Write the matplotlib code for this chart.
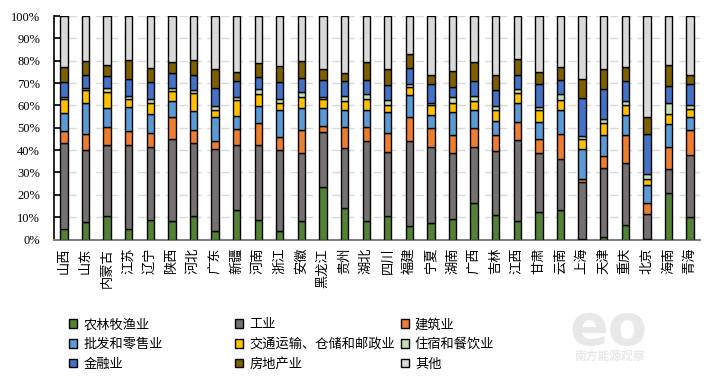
import matplotlib
matplotlib.use('Agg')
import matplotlib.pyplot as plt
import numpy as np

plt.rcParams['font.family'] = ['Liberation Serif', 'Noto Sans CJK SC', 'DejaVu Sans']

# provinces (left to right)
provinces = ['山西', '山东', '内蒙古', '江苏', '辽宁', '陕西', '河北', '广东', '新疆', '河南',
             '浙江', '安徽', '黑龙江', '贵州', '湖北', '四川', '福建', '宁夏', '湖南', '广西',
             '吉林', '江西', '甘肃', '云南', '上海', '天津', '重庆', '北京', '海南', '青海']

# share of each sector, %
agri = [4.9, 7.8, 10.7, 4.6, 8.8, 8.1, 10.3, 3.6, 13.4, 8.8,
        3.6, 8.2, 23.6, 14.3, 8.5, 10.4, 6.1, 7.6, 9.4, 16.3,
        11.0, 8.5, 12.4, 13.1, 0.3, 1.0, 6.4, 0.3, 20.9, 10.0]
industry = [38.4, 32.1, 31.8, 37.6, 32.7, 36.7, 32.7, 37.0, 28.8, 33.7,
            36.3, 30.5, 24.5, 26.7, 35.4, 28.7, 38.2, 33.9, 29.3, 24.9,
            28.4, 36.0, 26.3, 23.0, 25.4, 31.2, 27.9, 11.3, 10.7, 27.6]
construction = [5.4, 7.3, 7.8, 6.5, 6.3, 9.8, 6.1, 3.7, 7.4, 9.7,
                5.9, 10.4, 2.9, 9.4, 6.5, 8.7, 10.5, 8.5, 8.2, 8.5,
                7.2, 8.2, 6.5, 11.1, 1.3, 5.0, 12.3, 4.7, 9.9, 11.5]
trade = [7.7, 14.0, 8.5, 10.7, 8.3, 7.2, 8.5, 10.3, 5.8, 7.5,
         12.0, 9.6, 7.8, 7.4, 7.4, 9.1, 10.0, 5.5, 10.0, 8.1,
         6.5, 8.6, 7.6, 10.7, 13.3, 9.7, 9.1, 7.9, 10.0, 5.5]
transport = [6.3, 5.7, 7.0, 3.3, 5.2, 4.8, 8.1, 3.3, 7.0, 5.2,
             3.1, 5.2, 3.9, 4.3, 4.9, 3.1, 3.3, 4.5, 4.4, 4.3,
             4.7, 4.4, 5.0, 4.5, 4.5, 5.3, 4.4, 3.1, 4.6, 3.9]
hotel = [1.2, 1.0, 2.0, 1.6, 1.4, 1.0, 1.2, 1.7, 1.2, 2.3,
         1.9, 1.9, 1.2, 2.2, 2.4, 2.4, 1.5, 1.3, 2.3, 1.9,
         1.9, 1.5, 1.6, 2.7, 1.5, 1.7, 2.0, 1.8, 5.1, 1.9]
finance = [6.5, 5.7, 5.2, 7.6, 7.9, 6.7, 6.7, 8.2, 7.4, 5.3,
           7.8, 6.3, 7.4, 6.7, 6.2, 6.6, 7.0, 8.1, 4.6, 7.0,
           7.2, 6.5, 10.0, 6.2, 17.0, 13.3, 8.9, 18.1, 7.5, 9.0]
realestate = [6.6, 6.3, 4.9, 8.4, 6.1, 5.3, 6.7, 8.5, 3.9, 6.3,
              7.0, 7.9, 5.0, 3.5, 8.1, 7.4, 6.4, 4.3, 7.2, 8.3,
              6.5, 7.3, 5.5, 6.0, 8.5, 8.9, 6.3, 7.4, 9.2, 4.3]
other = [23.0, 20.1, 22.1, 19.7, 23.3, 20.4, 19.7, 23.7, 25.1, 21.2,
         22.4, 20.0, 23.7, 25.5, 20.6, 23.6, 17.0, 26.3, 24.6, 20.7,
         26.6, 19.0, 25.1, 22.7, 28.2, 23.9, 22.7, 45.4, 22.1, 26.3]

sectors = ['农林牧渔业', '工业', '建筑业', '批发和零售业', '交通运输、仓储和邮政业',
           '住宿和餐饮业', '金融业', '房地产业', '其他']
colors = ['#548235', '#767171', '#ED7D31', '#5B9BD5', '#FFC000',
          '#C5E0B4', '#4472C4', '#7F6000', '#D9D9D9']
series = [agri, industry, construction, trade, transport, hotel, finance, realestate, other]

fig = plt.figure(figsize=(7.15, 3.82), dpi=100)
ax = fig.add_axes([0.0755, 0.373, 0.9035, 0.585])

x = np.arange(len(provinces))
bottom = np.zeros(len(provinces))
bars = []
for name, vals, c in zip(sectors, series, colors):
    b = ax.bar(x, vals, 0.34, bottom=bottom, color=c, edgecolor='black',
               linewidth=1.0, label=name, zorder=3)
    bars.append(b)
    bottom += np.array(vals)

ax.set_xlim(-0.46, len(provinces) - 0.54)
ax.set_ylim(0, 100)
ax.set_yticks(np.arange(0, 101, 10))
ax.set_yticklabels([f'{v}%' for v in range(0, 101, 10)], fontsize=9)
ax.yaxis.grid(True, color='#d9d9d9', linestyle=(0, (6, 4)), linewidth=1.0, zorder=0)

ax.set_xticks(x)
ax.set_xticklabels(provinces, rotation=90, fontsize=9.5, family=['Noto Sans CJK SC'])
ax.tick_params(axis='x', length=0, pad=6)
ax.tick_params(axis='y', direction='in', length=4, width=1.2, pad=10)

for s in ['top', 'right']:
    ax.spines[s].set_visible(False)
ax.spines['left'].set_linewidth(1.2)
ax.spines['bottom'].set_color('#7f7f7f')
ax.spines['bottom'].set_linewidth(1.5)

# watermark
fig.text(0.851, 0.138, 'eo', fontsize=41, fontweight='bold', color='#e8e8e8',
         ha='center', va='center', family='DejaVu Sans', zorder=0)
fig.text(0.853, 0.066, '南方能源观察', fontsize=8.5, fontweight='bold', color='#e8e8e8',
         ha='center', va='center', family='Noto Sans CJK SC', zorder=0)

# legend: three columns, each filled top to bottom
col_x = [0.097, 0.329, 0.561]
for ci in range(3):
    idx = [ci, ci + 3, ci + 6]
    fig.legend([bars[i] for i in idx], [sectors[i] for i in idx],
               loc='upper left', bbox_to_anchor=(col_x[ci], 0.167),
               bbox_transform=fig.transFigure, frameon=False,
               handlelength=0.6, handleheight=0.6, handletextpad=0.45,
               labelspacing=0.52, borderpad=0, borderaxespad=0,
               prop={'family': ['Noto Sans CJK SC'], 'size': 9.5})

fig.savefig('out.png', dpi=100)
